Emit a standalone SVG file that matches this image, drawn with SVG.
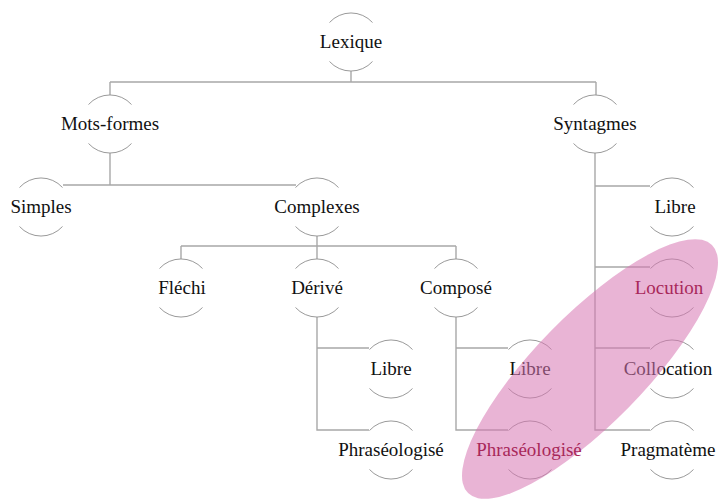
<svg xmlns="http://www.w3.org/2000/svg" width="719" height="502" viewBox="0 0 719 502">
<style>
.arc{fill:none;stroke:#9a9a9a;stroke-width:1}
.ln{fill:none;stroke:#a8a8a8;stroke-width:1.4}
.t{font-family:'Liberation Serif','Times New Roman',Times,serif;font-size:19px;fill:#111;text-anchor:middle}
.hl{fill:#a8285a}
</style>
<defs>
<g id="ring">
<path class="arc" d="M-21.5,-19.5 A29,29 0 0 1 21.5,-19.5 M-21.5,19.5 A29,29 0 0 0 21.5,19.5"/>
</g>
</defs>
<g id="connectors">
<path class="ln" d="M351,71 V82 M110,82 H596 M110,82 V95 M596,82 V95"/>
<path class="ln" d="M110,153 V185 M63,185 H296"/>
<path class="ln" d="M317,236 V246 M181,246 H456 M181,246 V259 M317,246 V259 M456,246 V259"/>
<path class="ln" d="M317,317 V430 H369 M317,348 H369"/>
<path class="ln" d="M456,317 V430 H508 M456,348 H508"/>
<path class="ln" d="M595,153 V430 H650 M595,348 H650 M595,267 H650 M595,186 H650"/>
</g>
<g font-family="Liberation Serif, Times New Roman, serif">
<g id="lexique"><use href="#ring" x="351" y="42"/><text class="t" font-family="Liberation Serif, serif" x="351" y="48">Lexique</text></g>
<g id="mots-formes"><use href="#ring" x="110" y="124"/><text class="t" x="110" y="130">Mots-formes</text></g>
<g id="syntagmes"><use href="#ring" x="595" y="124"/><text class="t" x="595" y="130">Syntagmes</text></g>
<g id="simples"><use href="#ring" x="41" y="207"/><text class="t" x="41" y="213">Simples</text></g>
<g id="complexes"><use href="#ring" x="317" y="207"/><text class="t" x="317" y="213">Complexes</text></g>
<g id="libre-s"><use href="#ring" x="672" y="207"/><text class="t" x="675" y="213">Libre</text></g>
<g id="flechi"><use href="#ring" x="181" y="288"/><text class="t" x="182" y="294">Fléchi</text></g>
<g id="derive"><use href="#ring" x="317" y="288"/><text class="t" x="317" y="294">Dérivé</text></g>
<g id="compose"><use href="#ring" x="456" y="288"/><text class="t" x="456" y="294">Composé</text></g>
<g id="locution"><use href="#ring" x="672" y="288"/></g>
<g id="libre-d"><use href="#ring" x="391" y="369"/><text class="t" x="391" y="375">Libre</text></g>
<g id="libre-c"><use href="#ring" x="530" y="369"/><text class="t" x="530" y="375">Libre</text></g>
<g id="collocation"><use href="#ring" x="672" y="369"/><text class="t" x="668" y="375">Collocation</text></g>
<g id="phraseologise-d"><use href="#ring" x="391" y="450"/><text class="t" x="391" y="456">Phraséologisé</text></g>
<g id="phraseologise-c"><use href="#ring" x="530" y="450"/></g>
<g id="pragmateme"><use href="#ring" x="672" y="450"/><text class="t" x="668" y="456">Pragmatème</text></g>
<g id="highlight">
<ellipse cx="590" cy="369" rx="174" ry="54.5" transform="rotate(-45.5 590 369)" fill="#d777b3" opacity="0.55"/>
<text class="t hl" x="669" y="294">Locution</text>
<text class="t hl" x="529" y="456">Phraséologisé</text>
</g>
</g>
</svg>
